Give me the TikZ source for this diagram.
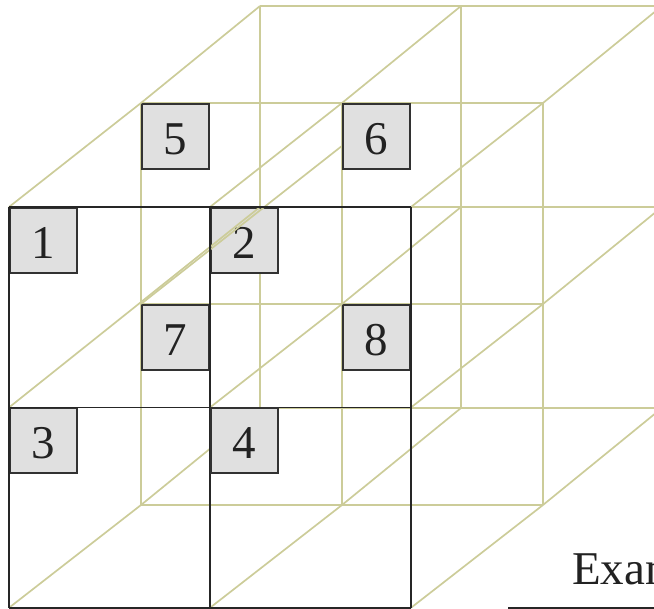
\documentclass[tikz,border=0pt]{standalone}
\usepackage{fontspec}
\setmainfont{Liberation Serif}
\definecolor{gridolive}{RGB}{204,204,153}
\definecolor{frontline}{RGB}{38,38,38}
\definecolor{boxline}{RGB}{50,50,50}
\definecolor{boxfill}{RGB}{224,224,224}
\definecolor{txt}{RGB}{34,34,34}
\tikzset{
  oline/.style={draw=gridolive, line width=1.7pt},
  fline/.style={draw=frontline, line width=1.9pt},
  gbox/.style={draw=boxline, fill=boxfill, line width=1.8pt, anchor=north west,
    minimum width=67pt, minimum height=65pt, inner sep=0pt,
    text height=36pt, text depth=0pt, text=txt, font=\fontsize{47}{47}\selectfont},
}
\begin{document}
\begin{tikzpicture}[x=1pt,y=-1pt]
\useasboundingbox (0,0) rectangle (654,609);
\clip (0,0) rectangle (654,609);
% grid points: front, middle, back layers
\foreach \i/\x in {0/9,1/210,2/411}{
  \foreach \j/\y in {0/207,1/407.5,2/607.8}{
    \coordinate (F\i\j) at (\x,\y);}}
\foreach \i/\x in {0/141,1/342,2/543}{
  \foreach \j/\y in {0/103,1/304,2/505}{
    \coordinate (M\i\j) at (\x,\y);}}
\foreach \i/\x in {0/260,1/461,2/662}{
  \foreach \j/\y in {0/6,1/207,2/408}{
    \coordinate (B\i\j) at (\x,\y);}}
\coordinate (Xend) at (380,116);
% middle and back layer grids
\foreach \L in {M,B}{
  \foreach \k in {0,1,2}{
    \draw[oline] (\L\k0) -- (\L\k2);
    \draw[oline] (\L0\k) -- (\L2\k);}}
% boxes under the depth lines
\node[gbox] (n1) at (F00) {1};
\node[gbox] (n2) at (F10) {2};
\node[gbox] (n3) at (F01) {3};
\node[gbox] (n5) at (M00) {5};
\node[gbox] (n7) at (M01) {7};
\node[gbox] (n8) at (M11) {8};
% depth lines
\foreach \p in {00,10,20,11,21,02,12,22}{
  \draw[oline] (F\p) -- (M\p) -- (B\p);}
\draw[oline] (F01) -- (B01);
\draw[oline] (M01) -- (Xend);
% front grid
\foreach \k in {0,1,2}{
  \draw[fline] (F\k0) -- (F\k2);
  \draw[fline] (F0\k) -- (F2\k);}
% boxes over the depth lines
\node[gbox] (n4) at (F11) {4};
\node[gbox] (n6) at (M10) {6};
% caption fragment
\node[anchor=base west, inner sep=0pt, text=txt, font=\fontsize{47}{47}\selectfont] (ex) at (572,585) {Exam};
\coordinate (u1) at (508,607.8);
\coordinate (u2) at (654,607.8);
\draw[draw=frontline, line width=1.7pt] (u1) -- (u2);
\end{tikzpicture}
\end{document}
